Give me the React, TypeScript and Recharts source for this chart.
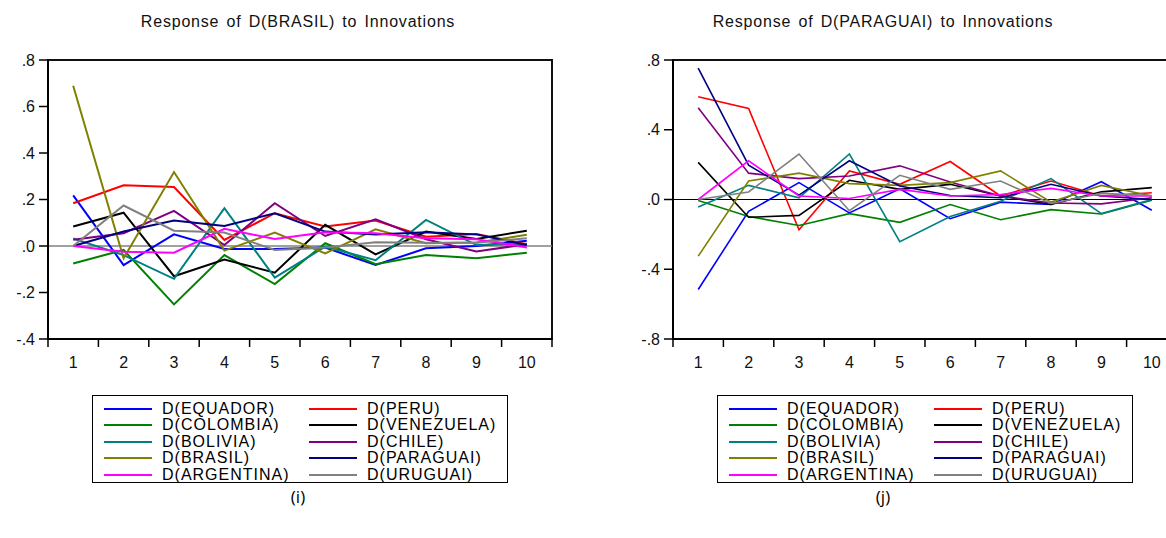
import { LineChart, Line, XAxis, YAxis, ReferenceLine, ReferenceArea } from "recharts";

const periods = [1, 2, 3, 4, 5, 6, 7, 8, 9, 10];

// Response of D(BRASIL)
const brEquador = [0.218, -0.082, 0.05, -0.013, -0.013, -0.007, -0.082, -0.01, 0.0, 0.023];
const brPeru = [0.184, 0.261, 0.254, 0.026, 0.141, 0.084, 0.11, 0.04, 0.052, 0.008];
const brColombia = [-0.075, -0.017, -0.251, -0.039, -0.164, 0.012, -0.078, -0.039, -0.053, -0.029];
const brVenezuela = [0.084, 0.143, -0.13, -0.058, -0.115, 0.091, -0.036, 0.062, 0.03, 0.066];
const brBolivia = [0.032, -0.039, -0.141, 0.163, -0.136, -0.003, -0.061, 0.112, 0.004, 0.01];
const brChile = [0.027, 0.055, 0.151, 0.004, 0.184, 0.043, 0.115, 0.029, -0.024, 0.008];
const brBrasil = [0.689, -0.053, 0.318, -0.02, 0.058, -0.032, 0.072, 0.012, 0.015, 0.048];
const brParaguai = [0.0, 0.062, 0.11, 0.086, 0.141, 0.062, 0.05, 0.059, 0.05, 0.004];
const brArgentina = [0.0, -0.025, -0.029, 0.074, 0.03, 0.059, 0.055, 0.033, 0.029, -0.006];
const brUruguai = [0.0, 0.174, 0.066, 0.058, -0.017, -0.006, 0.016, 0.014, 0.014, 0.033];

// Response of D(PARAGUAI)
const paEquador = [-0.516, -0.068, 0.097, -0.077, 0.062, -0.11, -0.015, -0.029, 0.102, -0.062];
const paPeru = [0.589, 0.522, -0.174, 0.164, 0.087, 0.218, 0.02, 0.106, 0.02, 0.039];
const paColombia = [-0.006, -0.097, -0.149, -0.081, -0.131, -0.029, -0.116, -0.058, -0.083, -0.004];
const paVenezuela = [0.213, -0.102, -0.091, 0.11, 0.058, 0.087, 0.02, -0.029, 0.044, 0.068];
const paBolivia = [-0.043, 0.081, 0.01, 0.261, -0.242, -0.097, -0.01, 0.12, -0.081, 0.0];
const paChile = [0.526, 0.151, 0.12, 0.135, 0.193, 0.1, 0.02, -0.02, -0.025, 0.01];
const paBrasil = [-0.325, 0.106, 0.151, 0.091, 0.081, 0.097, 0.164, -0.015, 0.081, 0.02];
const paParaguai = [0.754, 0.197, 0.025, 0.222, 0.077, 0.023, 0.01, 0.087, 0.02, 0.0];
const paArgentina = [0.0, 0.222, 0.02, 0.006, 0.058, 0.02, 0.029, 0.064, 0.02, 0.02];
const paUruguai = [0.0, 0.043, 0.261, -0.064, 0.139, 0.058, 0.106, -0.023, 0.035, 0.023];

const seriesKeys = ["equador", "peru", "colombia", "venezuela", "bolivia", "chile", "brasil", "paraguai", "argentina", "uruguai"];
const seriesNames = ["D(EQUADOR)", "D(PERU)", "D(COLOMBIA)", "D(VENEZUELA)", "D(BOLIVIA)", "D(CHILE)", "D(BRASIL)", "D(PARAGUAI)", "D(ARGENTINA)", "D(URUGUAI)"];
const seriesColors = ["#0000ff", "#ff0000", "#008000", "#000000", "#008080", "#800080", "#808000", "#000080", "#ff00ff", "#808080"];

const xTicks = [0.5, 1, 1.5, 2, 2.5, 3, 3.5, 4, 4.5, 5, 5.5, 6, 6.5, 7, 7.5, 8, 8.5, 9, 9.5, 10, 10.5];
const brTicks = [-0.4, -0.2, 0, 0.2, 0.4, 0.6, 0.8];
const paTicks = [-0.8, -0.4, 0, 0.4, 0.8];

const FONT = "'Liberation Sans', Arial, sans-serif";

function build(cols: number[][]) {
  return periods.map((p, i) => {
    const row: Record<string, number> = { period: p };
    seriesKeys.forEach((k, j) => (row[k] = cols[j][i]));
    return row;
  });
}

const brData = build([brEquador, brPeru, brColombia, brVenezuela, brBolivia, brChile, brBrasil, brParaguai, brArgentina, brUruguai]);
const paData = build([paEquador, paPeru, paColombia, paVenezuela, paBolivia, paChile, paBrasil, paParaguai, paArgentina, paUruguai]);

const fmtY = (v: number) => {
  if (Math.abs(v) < 1e-9) return ".0";
  return (v < 0 ? "-" : "") + "." + Math.round(Math.abs(v) * 10);
};

// labels sit on whole periods, tick marks on the half steps between them
function XTick(props: any) {
  const { x, y, payload } = props;
  if (Number.isInteger(payload.value)) {
    return (
      <text x={x} y={y + 20} textAnchor="middle" fontFamily={FONT} fontSize={16} fill="#111">
        {payload.value}
      </text>
    );
  }
  return <line x1={x} x2={x} y1={y - 9} y2={y - 1} stroke="#000" strokeWidth={1.5} />;
}

function IrfChart({ data, ticks, domain, yWidth, width, zeroColor, zeroWidth, lineWidth }: any) {
  return (
    <LineChart width={width} height={380} data={data} margin={{ top: 60, right: width - yWidth - 504, bottom: 0, left: 0 }}>
      <ReferenceLine y={0} stroke={zeroColor} strokeWidth={zeroWidth} />
      <XAxis
        dataKey="period"
        type="number"
        domain={[0.5, 10.5]}
        ticks={xTicks}
        interval={0}
        height={41}
        tickSize={7}
        tickMargin={2}
        tickLine={false}
        tick={<XTick />}
        axisLine={{ stroke: "#000", strokeWidth: 2 }}
      />
      <YAxis
        type="number"
        domain={domain}
        ticks={ticks}
        interval={0}
        width={yWidth}
        tickSize={9}
        tickMargin={4}
        tickFormatter={fmtY}
        tick={{ fontFamily: FONT, fontSize: 16, fill: "#111" }}
        tickLine={{ stroke: "#000", strokeWidth: 1.5 }}
        axisLine={{ stroke: "#000", strokeWidth: 2 }}
      />
      <ReferenceArea x1={0.5} x2={10.5} y1={domain[0]} y2={domain[1]} fill="none" stroke="#111" strokeWidth={2} />
      {seriesKeys.map((k, j) => (
        <Line
          key={k}
          dataKey={k}
          stroke={seriesColors[j]}
          strokeWidth={lineWidth}
          dot={false}
          activeDot={false}
          type="linear"
          isAnimationActive={false}
        />
      ))}
    </LineChart>
  );
}

function LegendBox({ left }: { left: number }) {
  return (
    <div
      style={{
        position: "absolute",
        left,
        top: 395,
        width: 416,
        height: 88,
        boxSizing: "border-box",
        border: "1px solid #000",
        fontFamily: FONT,
        fontSize: 16,
        letterSpacing: 1,
        color: "#000",
      }}
    >
      {seriesKeys.map((k, j) => {
        const col = j % 2;
        const row = Math.floor(j / 2);
        const top = 4.5 + row * 16.65;
        return (
          <div key={k} style={{ position: "absolute", left: col === 0 ? 11 : 216, top, height: 16, display: "flex", alignItems: "center" }}>
            <svg width={48} height={4} style={{ display: "block" }}>
              <line x1={0} x2={48} y1={2} y2={2} stroke={seriesColors[j]} strokeWidth={2} />
            </svg>
            <span style={{ marginLeft: 10, lineHeight: "16px", whiteSpace: "nowrap" }}>{seriesNames[j]}</span>
          </div>
        );
      })}
    </div>
  );
}

const titleStyle: any = {
  position: "absolute",
  top: 13,
  fontFamily: FONT,
  fontSize: 16,
  letterSpacing: 0.8,
  wordSpacing: 2,
  textAlign: "center",
  whiteSpace: "nowrap",
  color: "#111",
};

const captionStyle: any = {
  position: "absolute",
  top: 485,
  fontFamily: "'Open Sans', sans-serif",
  fontSize: 17,
  textAlign: "center",
  color: "#000",
};

export default function App() {
  return (
    <div style={{ position: "absolute", left: 0, top: 0, width: 1166, height: 538, overflow: "hidden", background: "#fff" }}>
      <div style={{ ...titleStyle, left: 98, width: 400 }}>Response of D(BRASIL) to Innovations</div>
      <div style={{ ...titleStyle, left: 683, width: 400 }}>Response of D(PARAGUAI) to Innovations</div>

      <div style={{ position: "absolute", left: 0, top: 0 }}>
        <IrfChart data={brData} ticks={brTicks} domain={[-0.4, 0.8]} yWidth={48} width={570} zeroColor="#808080" zeroWidth={1.5} lineWidth={2} />
      </div>
      <div style={{ position: "absolute", left: 585, top: 0 }}>
        <IrfChart data={paData} ticks={paTicks} domain={[-0.8, 0.8]} yWidth={88} width={600} zeroColor="#000" zeroWidth={1} lineWidth={1.6} />
      </div>

      <LegendBox left={92} />
      <LegendBox left={717} />

      <div style={{ ...captionStyle, left: 248, width: 100 }}>(i)</div>
      <div style={{ ...captionStyle, left: 833, width: 100 }}>(j)</div>
    </div>
  );
}
